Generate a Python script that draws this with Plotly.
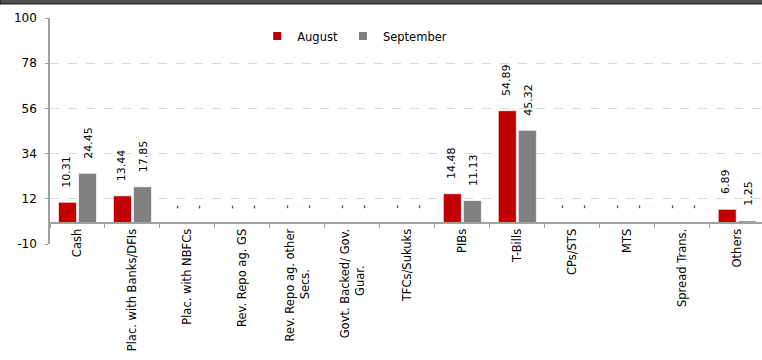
import plotly.graph_objects as go

NB = "\u00a0"
categories = [
    "Cash",
    "Plac. with Banks/DFIs",
    "Plac. with NBFCs",
    "Rev. Repo ag. GS",
    "Rev. Repo ag. other<br>Secs." + NB * 11,
    "Govt. Backed/ Gov.<br>Guar." + NB * 10,
    "TFCs/Sukuks",
    "PIBs",
    "T-Bills",
    "CPs/STS",
    "MTS",
    "Spread Trans.",
    "Others",
]
august = [10.31, 13.44, 0, 0, 0, 0, 0, 14.48, 54.89, 0, 0, 0, 6.89]
september = [24.45, 17.85, 0, 0, 0, 0, 0, 11.13, 45.32, 0, 0, 0, 1.25]
y_ticks = [-10, 12, 34, 56, 78, 100]

RED = "#C00000"
GRAY = "#808080"
FONT = "DejaVu Sans"

fig = go.Figure()
fig.add_trace(go.Bar(x=categories, y=august, name="August", marker=dict(color=RED, line=dict(color="rgba(255,255,255,0.7)", width=1)), showlegend=False))
fig.add_trace(go.Bar(x=categories, y=september, name="September", marker=dict(color=GRAY, line=dict(color="rgba(255,255,255,0.7)", width=1)), showlegend=False))
# legend entries with small square symbols
fig.add_trace(go.Scatter(x=[None], y=[None], mode="markers", name="August", marker=dict(symbol="square", size=8, color=RED)))
fig.add_trace(go.Scatter(x=[None], y=[None], mode="markers", name="September", marker=dict(symbol="square", size=8, color=GRAY)))

annotations = []
for vals, shift in ((august, -11), (september, 11)):
    for c, v in zip(categories, vals):
        annotations.append(dict(
            x=c, y=v, xref="x", yref="y", xshift=shift, yshift=13,
            text=("%.2f" % v) if v != 0 else "-",
            textangle=-90, showarrow=False, xanchor="center", yanchor="bottom",
            font=dict(family=FONT, size=11, color="#000000"),
        ))

fig.update_layout(
    width=762, height=360,
    margin=dict(l=50, r=0, t=18, b=116),
    paper_bgcolor="white", plot_bgcolor="white",
    barmode="group", bargap=0.27, bargroupgap=0.1,
    font=dict(family=FONT, size=12, color="#000000"),
    legend=dict(orientation="h", x=0.291, xanchor="left", y=0.92, yanchor="middle",
                font=dict(family=FONT, size=11.5), bgcolor="rgba(0,0,0,0)",
                itemwidth=30),
    annotations=annotations,
    shapes=[dict(type="rect", xref="paper", yref="paper",
                 x0=-50 / 712, x1=1.01, y0=1 + 14 / 226, y1=1 + 19 / 226,
                 fillcolor="#505050", line=dict(color="#111111", width=1))],
)
fig.update_xaxes(
    type="category", range=[-0.5, 12.45],
    anchor="free", position=10 / 110,
    showline=True, linecolor="#A0A0A0", linewidth=1.5,
    ticks="outside", ticklen=4, tickcolor="#A0A0A0", tickson="boundaries",
    tickangle=-90, tickfont=dict(family=FONT, size=11.5, color="#000000"),
    showgrid=False, zeroline=False,
)
fig.update_yaxes(
    range=[-10, 100], tickvals=y_ticks, ticktext=[str(t) for t in y_ticks],
    showline=True, linecolor="#A0A0A0", linewidth=1.5,
    ticks="outside", ticklen=3, tickcolor="#A0A0A0", ticklabelstandoff=6,
    showgrid=True, gridcolor="#D9D9D9", griddash="dash", gridwidth=1,
    zeroline=False, tickfont=dict(family=FONT, size=12, color="#000000"),
)

fig.write_html("out.html")
